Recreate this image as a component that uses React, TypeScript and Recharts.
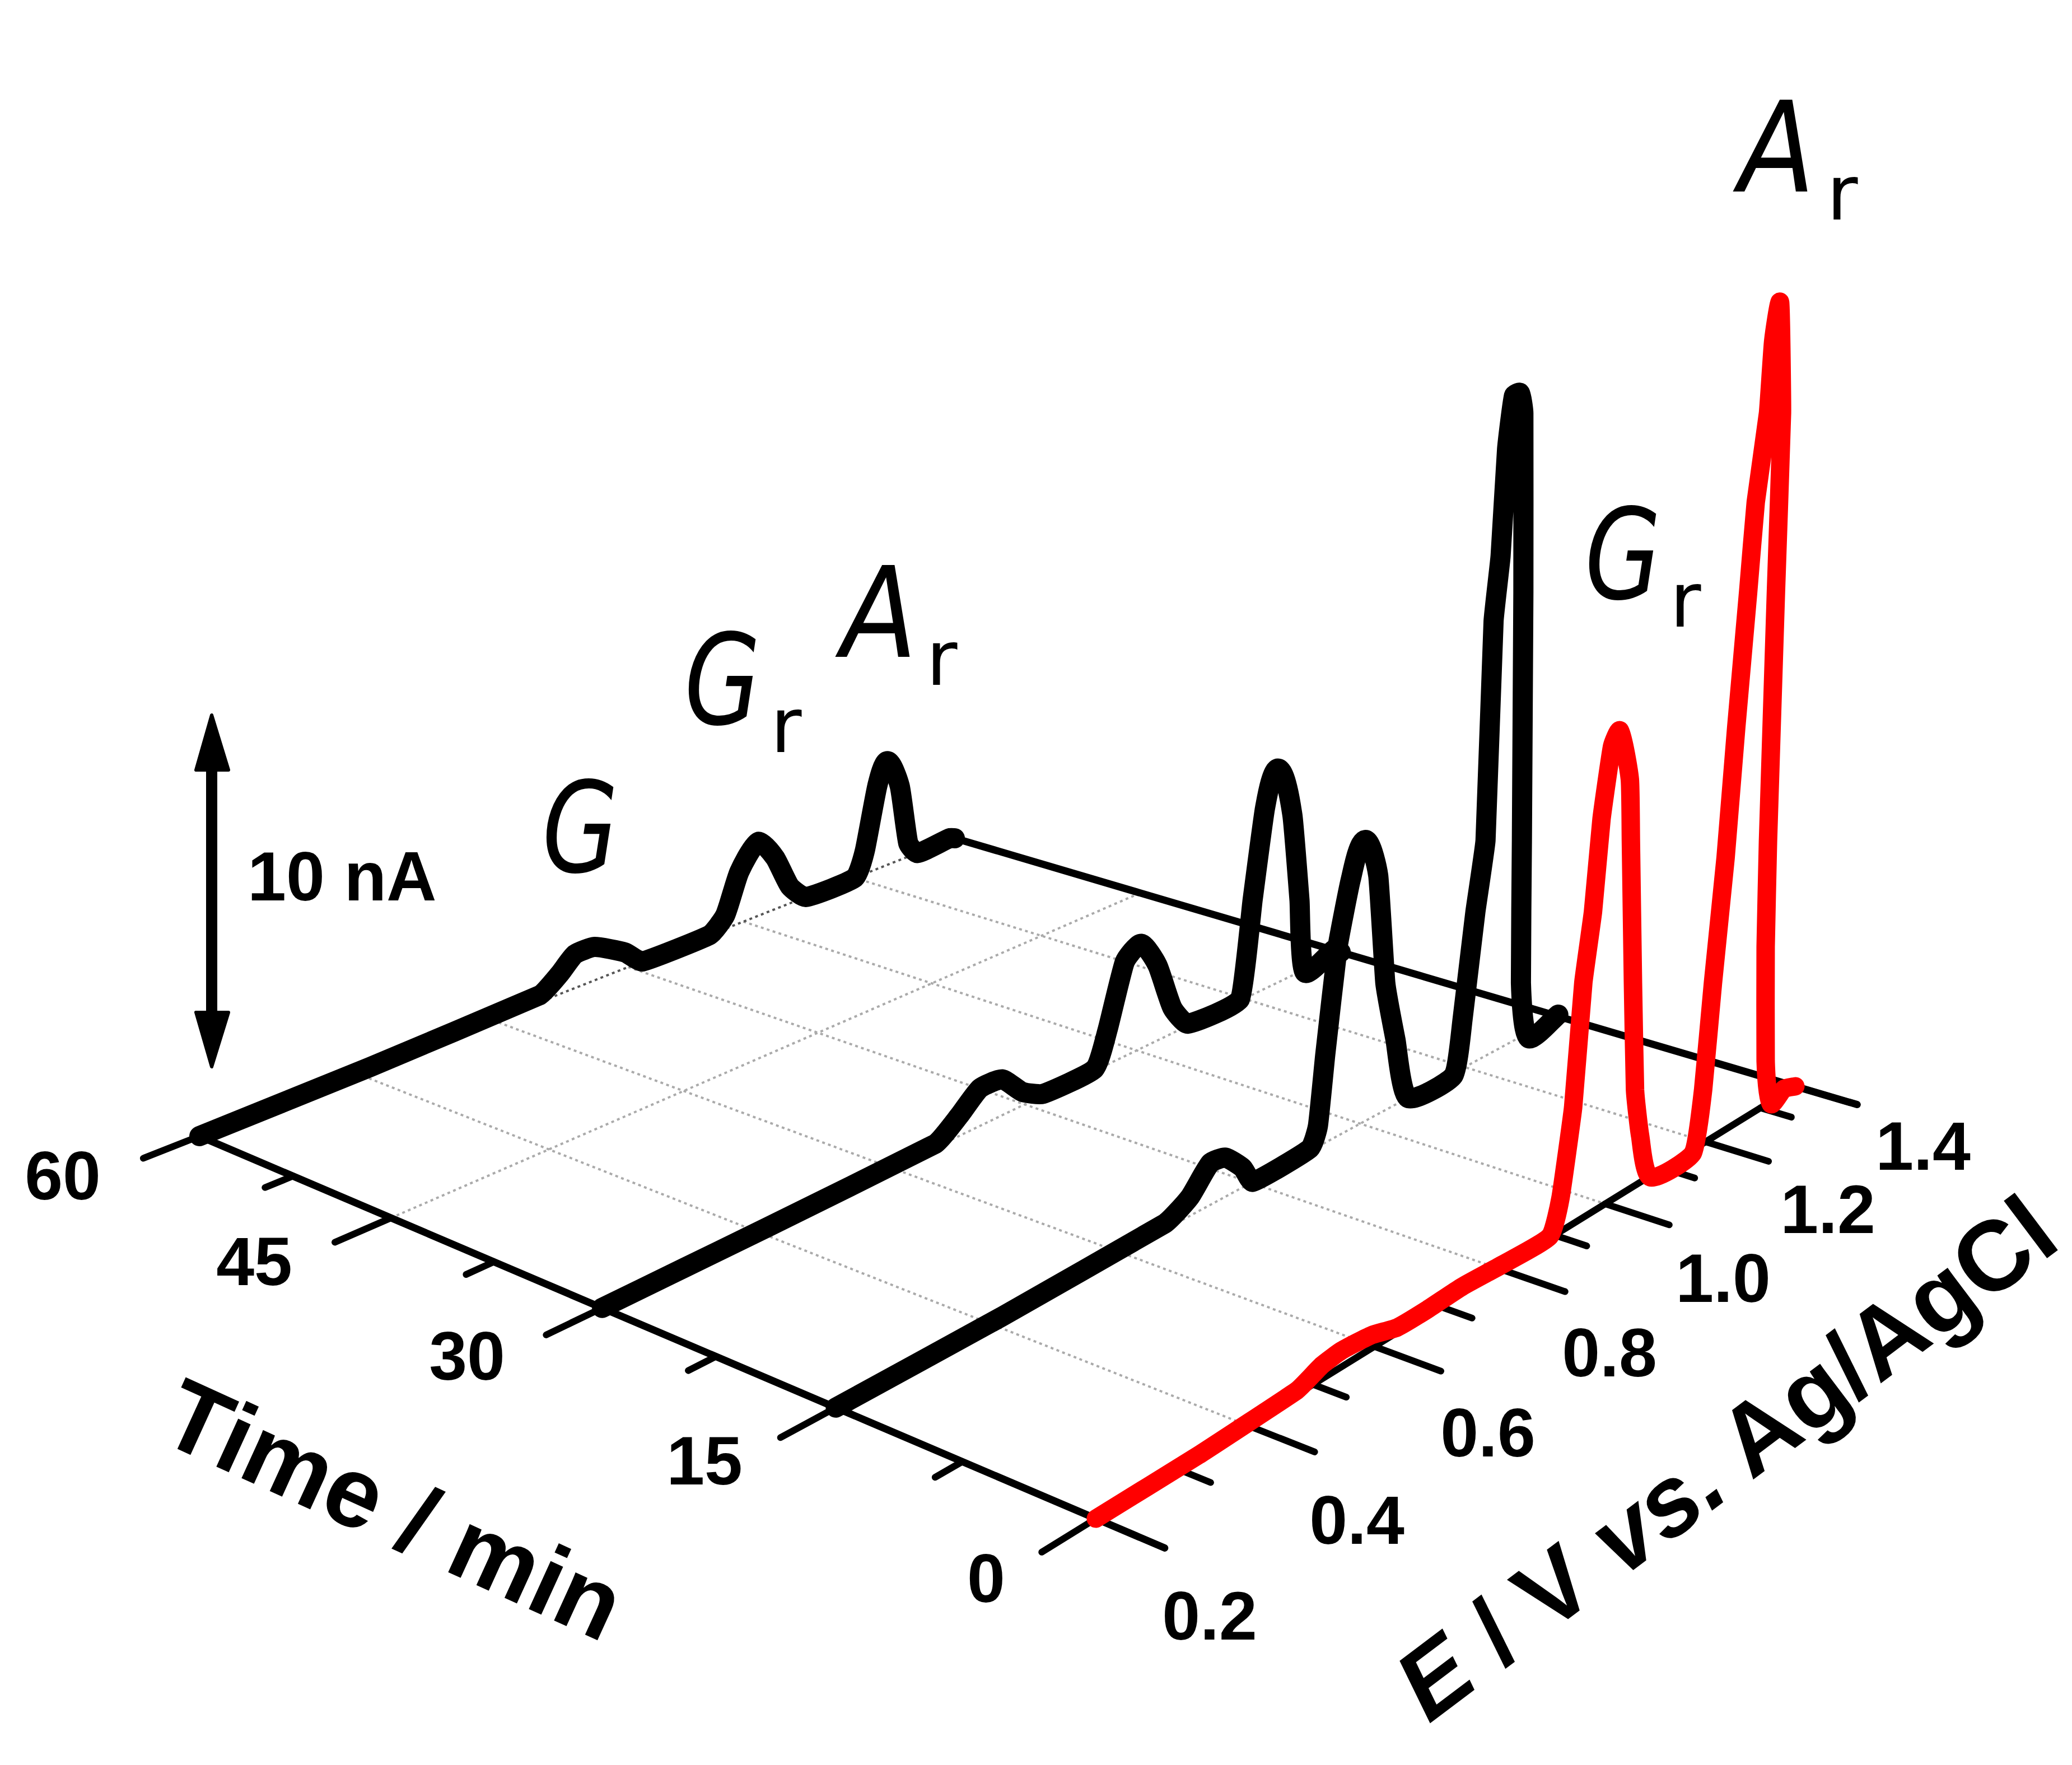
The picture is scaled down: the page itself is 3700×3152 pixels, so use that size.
import { LineChart, Line, XAxis, YAxis } from "recharts";

const WIDTH = 3700;
const HEIGHT = 3152;

// pixels of height per nA (the 10 nA scale arrow)
const NA_PX = 62.8;

const timeTicks = [60, 45, 30, 15, 0];
const timeMinorTicks = [52.5, 37.5, 22.5, 7.5];
const potentialLabels = ["0.2", "0.4", "0.6", "0.8", "1.0", "1.2", "1.4"];
// where the ticks really sit on the projected floor
const potentialMajor = [0.2, 0.414, 0.611, 0.822, 1.014, 1.211, 1.4];
const potentialMinor = [0.312, 0.514, 0.718, 0.92, 1.126, 1.325];

const e60 = [0.2, 0.431, 0.682, 0.713, 0.737, 0.768, 0.817, 0.845, 0.957, 0.983, 1.007, 1.04, 1.069, 1.095, 1.123, 1.212, 1.23, 1.253, 1.272, 1.295, 1.311, 1.328, 1.39, 1.4];
const i60 = [0, 0.05, 0.19, 0.57, 0.96, 0.95, 0.45, 0, 0, 0.39, 1.46, 2.1, 1.46, 0.48, 0, 0, 0.65, 2.35, 2.95, 2.1, 0.38, 0, 0.06, 0];

const e30 = [0.2, 0.426, 0.677, 0.716, 0.749, 0.785, 0.818, 0.852, 0.94, 0.963, 0.993, 1.022, 1.051, 1.078, 1.106, 1.203, 1.227, 1.251, 1.277, 1.304, 1.318, 1.328, 1.388, 1.4];
const i30 = [0, 0.03, 0.1, 0.58, 1.07, 1.02, 0.39, 0.05, 0.05, 0.99, 2.68, 2.97, 2.14, 0.72, 0.06, 0.04, 2.67, 5.14, 6.07, 4.56, 2.03, -0.08, 0.17, 0];

const e15 = [0.2, 0.431, 0.68, 0.72, 0.754, 0.779, 0.808, 0.825, 0.924, 0.938, 0.951, 0.973, 0.997, 1.023, 1.047, 1.06, 1.079, 1.102, 1.189, 1.207, 1.232, 1.252, 1.268, 1.282, 1.295, 1.309, 1.321, 1.328, 1.328, 1.325, 1.323, 1.338, 1.399, 1.4];
const i15 = [0, 0.03, 0.17, 0.53, 1.19, 1.11, 0.55, 0, 0.07, 0.59, 2.5, 5.37, 7.1, 7.99, 6.77, 3.62, 1.84, 0, -0.07, 1.41, 4.25, 6.13, 12.24, 13.98, 16.92, 18.34, 18.32, 17.69, 12.6, 5.57, 1.53, -0.15, 0.05, 0.05];

const e0 = [0.2, 0.343, 0.489, 0.528, 0.559, 0.607, 0.648, 0.697, 0.757, 0.826, 0.911, 0.931, 0.954, 0.973, 0.991, 1.007, 1.027, 1.042, 1.061, 1.063, 1.067, 1.071, 1.081, 1.101, 1.185, 1.206, 1.226, 1.252, 1.274, 1.299, 1.315, 1.341, 1.352, 1.367, 1.371, 1.358, 1.341, 1.336, 1.336, 1.347, 1.375, 1.4];
const i0 = [0, 0, 0.11, 0.39, 0.46, 0.37, 0.14, 0.12, 0.16, 0.08, 0.05, 0.97, 3.3, 6.68, 8.52, 11, 12.89, 13.2, 11.64, 9.9, 5.8, 2.72, 1.31, -0.04, -0.1, 1.53, 4.39, 7.73, 11.24, 14.89, 17.31, 19.62, 21.57, 22.56, 19.38, 14.41, 7.46, 4.49, 1.24, -0.07, 0.13, 0];

// perspective of the floor, from its four corners on the page
const P00 = [1957, 2712]; // t=0, E=0.2
const P10 = [3206, 1940]; // t=0, E=1.4
const P01 = [356, 2029]; // t=60, E=0.2
const P11 = [1705, 1497]; // t=60, E=1.4

const dx1 = P10[0] - P11[0];
const dx2 = P01[0] - P11[0];
const sx = P00[0] - P10[0] + P11[0] - P01[0];
const dy1 = P10[1] - P11[1];
const dy2 = P01[1] - P11[1];
const sy = P00[1] - P10[1] + P11[1] - P01[1];
const den = dx1 * dy2 - dx2 * dy1;
const g = (sx * dy2 - dx2 * sy) / den;
const h = (dx1 * sy - sx * dy1) / den;

function project(t: number, e: number, current = 0) {
    const u = (e - 0.2) / 1.2;
    const v = t / 60;
    const w = 1 + g * u + h * v;
    const x = (P00[0] + (P10[0] - P00[0] + g * P10[0]) * u + (P01[0] - P00[0] + h * P01[0]) * v) / w;
    const y = (P00[1] + (P10[1] - P00[1] + g * P10[1]) * u + (P01[1] - P00[1] + h * P01[1]) * v) / w;
    return { x, y: y - current * NA_PX };
}

const trace = (t: number, es: number[], is: number[]) => es.map((e, k) => project(t, e, is[k]));

// traces double back in x, so monotone curves are out: light tangent smoothing instead
function smoothCurve(context: any) {
    let pts: number[][] = [];
    return {
        areaStart() {},
        areaEnd() {},
        lineStart() {
            pts = [];
        },
        point(x: number, y: number) {
            pts.push([+x, +y]);
        },
        lineEnd() {
            const tangent = (k: number) => {
                const a = pts[Math.max(k - 1, 0)];
                const b = pts[Math.min(k + 1, pts.length - 1)];
                const len = Math.hypot(b[0] - a[0], b[1] - a[1]) || 1;
                return [(b[0] - a[0]) / len, (b[1] - a[1]) / len];
            };
            pts.forEach((p, k) => {
                if (k === 0) {
                    context.moveTo(p[0], p[1]);
                    return;
                }
                const q = pts[k - 1];
                const d = Math.min(Math.hypot(p[0] - q[0], p[1] - q[1]) / 6, 14);
                const t0 = tangent(k - 1);
                const t1 = tangent(k);
                context.bezierCurveTo(q[0] + t0[0] * d, q[1] + t0[1] * d, p[0] - t1[0] * d, p[1] - t1[1] * d, p[0], p[1]);
            });
        },
    };
}

const FONT = "'Liberation Sans', Arial, sans-serif";
const HAND = "'DejaVu Sans', sans-serif";

const black = { stroke: "#000", dot: false, activeDot: false, isAnimationActive: false, type: "linear", strokeLinecap: "round", strokeLinejoin: "round" } as const;
const curve = { ...black, type: smoothCurve as any };

function Tick({ x, y, children }: { x: number; y: number; children: string }) {
    return (
        <text x={x} y={y} textAnchor="middle" dominantBaseline="central" fontFamily={FONT} fontWeight="bold" fontSize={122} fill="#000">
            {children}
        </text>
    );
}

function Peak({ x, y, letter, sub, subDx }: { x: number; y: number; letter: string; sub?: string; subDx?: number }) {
    return (
        <g fontFamily={HAND} fill="#000">
            <text x={x} y={y} fontSize={225} fontStyle="italic" textLength={136} lengthAdjust="spacingAndGlyphs">{letter}</text>
            {sub && <text x={x + (subDx ?? 0)} y={y + 50} fontSize={135}>{sub}</text>}
        </g>
    );
}

export default function App() {
    const grid = (
        <>
            {potentialMajor.slice(1, -1).map((e) => (
                <Line key={`ge${e}`} {...black} data={[project(60, e), project(0, e)]} dataKey="y" stroke="#aaa" strokeWidth={4} strokeDasharray="5 6" strokeLinecap="butt" />
            ))}
            {timeTicks.slice(0, -1).map((t) => (
                <Line key={`gt${t}`} {...black} data={[project(t, 0.2), project(t, 1.4)]} dataKey="y" stroke={t === 60 ? "#555" : "#aaa"} strokeWidth={4} strokeDasharray="5 6" strokeLinecap="butt" />
            ))}
        </>
    );

    return (
        <div style={{ position: "absolute", left: 0, top: 0, width: WIDTH, height: HEIGHT, background: "#fff" }}>
            <LineChart width={WIDTH} height={HEIGHT} margin={{ top: 0, right: 0, bottom: 0, left: 0 }}>
                <XAxis dataKey="x" type="number" domain={[0, WIDTH]} hide allowDataOverflow />
                <YAxis dataKey="y" type="number" domain={[0, HEIGHT]} reversed hide allowDataOverflow />

                {grid}

                {/* floor axes */}
                <Line {...black} data={[project(60, 0.2), project(-3.7, 0.2)]} dataKey="y" strokeWidth={13} />
                <Line {...black} data={[project(0, 0.2), project(0, 1.4)]} dataKey="y" strokeWidth={12} />
                <Line {...black} data={[project(60, 1.4), project(-3.7, 1.4)]} dataKey="y" strokeWidth={13} />

                {timeTicks.map((t) => (
                    <Line key={`tm${t}`} {...black} data={[project(t, 0.2), project(t, 0.128)]} dataKey="y" strokeWidth={12} />
                ))}
                {timeMinorTicks.map((t) => (
                    <Line key={`tn${t}`} {...black} data={[project(t, 0.2), project(t, 0.164)]} dataKey="y" strokeWidth={12} />
                ))}
                {potentialMajor.map((e) => (
                    <Line key={`em${e}`} {...black} data={[project(0, e), project(-3.7, e)]} dataKey="y" strokeWidth={12} />
                ))}
                {potentialMinor.map((e) => (
                    <Line key={`en${e}`} {...black} data={[project(0, e), project(-1.85, e)]} dataKey="y" strokeWidth={12} />
                ))}

                <Line {...curve} data={trace(60, e60, i60)} dataKey="y" strokeWidth={36} />
                <Line {...curve} data={trace(30, e30, i30)} dataKey="y" strokeWidth={36} />
                <Line {...curve} data={trace(15, e15, i15)} dataKey="y" strokeWidth={36} />
                <Line {...curve} data={trace(0, e0, i0)} dataKey="y" stroke="#ff0000" strokeWidth={33} />

                {/* 10 nA scale arrow */}
                <Line {...black} data={[{ x: 378, y: 1360 }, { x: 378, y: 1820 }]} dataKey="y" strokeWidth={20} strokeLinecap="butt" />
                <polygon points="378,1277 350,1375 408,1375" fill="#000" stroke="#000" strokeWidth={6} strokeLinejoin="round" />
                <polygon points="378,1905 350,1808 408,1808" fill="#000" stroke="#000" strokeWidth={6} strokeLinejoin="round" />
                <text x={442} y={1608} fontFamily={FONT} fontWeight="bold" fontSize={124} fill="#000">10 nA</text>

                <Tick x={112} y={2100}>60</Tick>
                <Tick x={454} y={2253}>45</Tick>
                <Tick x={834} y={2422}>30</Tick>
                <Tick x={1258} y={2609}>15</Tick>
                <Tick x={1761} y={2819}>0</Tick>

                <Tick x={2160} y={2886}>{potentialLabels[0]}</Tick>
                <Tick x={2423} y={2715}>{potentialLabels[1]}</Tick>
                <Tick x={2657} y={2559}>{potentialLabels[2]}</Tick>
                <Tick x={2874} y={2416}>{potentialLabels[3]}</Tick>
                <Tick x={3077} y={2283}>{potentialLabels[4]}</Tick>
                <Tick x={3264} y={2160}>{potentialLabels[5]}</Tick>
                <Tick x={3434} y={2047}>{potentialLabels[6]}</Tick>

                <text x={678} y={2752} transform="rotate(24.5 678 2752)" textAnchor="middle" fontFamily={FONT} fontWeight="bold" fontSize={178} fill="#000">
                    Time / min
                </text>
                <text x={3118} y={2652} transform="rotate(-37 3118 2652)" textAnchor="middle" fontFamily={FONT} fontWeight="bold" fontSize={177} fill="#000">
                    <tspan fontStyle="italic">E</tspan> / V <tspan fontStyle="italic">vs.</tspan> Ag/AgCl
                </text>

                <Peak x={968} y={1557} letter="G" />
                <Peak x={1222} y={1293} letter="G" sub="r" subDx={154} />
                <Peak x={1502} y={1173} letter="A" sub="r" subDx={152} />
                <Peak x={2830} y={1069} letter="G" sub="r" subDx={152} />
                <Peak x={3105} y={342} letter="A" sub="r" subDx={157} />
            </LineChart>
        </div>
    );
}
